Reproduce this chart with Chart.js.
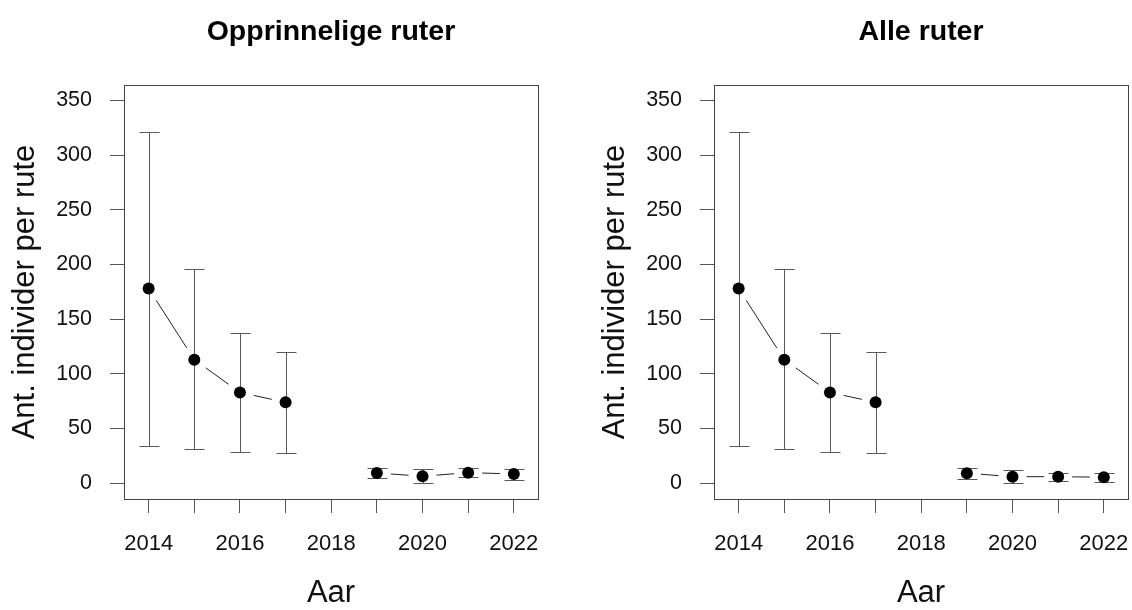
<!DOCTYPE html>
<html>
<head>
<meta charset="utf-8">
<script src="https://cdn.jsdelivr.net/npm/chart.js@4/dist/chart.umd.min.js"></script>
<style>
  html, body { margin: 0; padding: 0; background: #fff; }
  #wrap { position: relative; width: 1132px; height: 610px; overflow: hidden; }
  .panel { position: absolute; top: 0; width: 566px; height: 610px; }
</style>
</head>
<body>
<div id="wrap">
  <div class="panel" style="left:0"><canvas id="c1" width="566" height="610"></canvas></div>
  <div class="panel" style="left:590px"><canvas id="c2" width="566" height="610"></canvas></div>
</div>
<script>
// Survey years (no survey in 2018)
const years = [2014, 2015, 2016, 2017, 2018, 2019, 2020, 2021, 2022];

// Original routes: mean count per route with interval bounds
const origMean = [178, 113, 83, 74, null, 9.4, 6.4, 9.7, 8.5];
const origLow  = [34, 31, 29, 28, null, 4.6, 0.2, 5.5, 3.0];
const origHigh = [321, 196, 137, 120, null, 14.3, 12.8, 14.0, 13.4];

// All routes
const allMean = [178, 113, 83, 74, null, 9.2, 6.0, 6.0, 5.5];
const allLow  = [34, 31, 29, 28, null, 4.2, 0.6, 2.4, 1.2];
const allHigh = [321, 196, 137, 120, null, 14.3, 12.2, 9.7, 9.7];

// Axis ticks
const xTicks  = [2014, 2015, 2016, 2017, 2018, 2019, 2020, 2021, 2022];
const xLabels = [2014, 2016, 2018, 2020, 2022];
const yTicks  = [0, 50, 100, 150, 200, 250, 300, 350];

const titleLeft  = 'Opprinnelige ruter';
const titleRight = 'Alle ruter';
const xTitle = 'Aar';
const yTitle = 'Ant. individer per rute';

const FONT = "'Liberation Sans', Arial, sans-serif";
const CAP = 10;   // half width of interval caps
const GAP = 14;   // gap between connecting line and point centre

// Vertical intervals with caps, drawn under the points
const errorBars = {
  id: 'errorBars',
  beforeDatasetsDraw(chart, args, opts) {
    const { ctx, scales: { x, y } } = chart;
    ctx.save();
    ctx.strokeStyle = '#5a5a5a';
    ctx.lineWidth = 1;
    years.forEach((yr, i) => {
      if (opts.low[i] == null) return;
      const px = Math.round(x.getPixelForValue(yr)) + 0.5;
      const yl = Math.round(y.getPixelForValue(opts.low[i])) + 0.5;
      const yh = Math.round(y.getPixelForValue(opts.high[i])) + 0.5;
      ctx.beginPath();
      ctx.moveTo(px, yl); ctx.lineTo(px, yh);
      ctx.moveTo(px - CAP, yl); ctx.lineTo(px + CAP, yl);
      ctx.moveTo(px - CAP, yh); ctx.lineTo(px + CAP, yh);
      ctx.stroke();
    });
    ctx.restore();
  }
};

// Connecting segments between neighbouring points, stopping short of each point
const gapLines = {
  id: 'gapLines',
  beforeDatasetsDraw(chart) {
    const { ctx } = chart;
    const meta = chart.getDatasetMeta(0);
    const data = chart.data.datasets[0].data;
    ctx.save();
    ctx.strokeStyle = '#222';
    ctx.lineWidth = 1;
    for (let i = 0; i < data.length - 1; i++) {
      if (data[i].y == null || data[i + 1].y == null) continue;
      const a = meta.data[i], b = meta.data[i + 1];
      const dx = b.x - a.x, dy = b.y - a.y;
      const len = Math.hypot(dx, dy);
      if (len <= 2 * GAP) continue;
      const ux = dx / len, uy = dy / len;
      ctx.beginPath();
      ctx.moveTo(a.x + ux * GAP, a.y + uy * GAP);
      ctx.lineTo(b.x - ux * GAP, b.y - uy * GAP);
      ctx.stroke();
    }
    ctx.restore();
  }
};

// Box around the plot region and the panel heading
const frame = {
  id: 'frame',
  afterDraw(chart, args, opts) {
    const { ctx, chartArea: a } = chart;
    ctx.save();
    ctx.strokeStyle = '#444';
    ctx.lineWidth = 1;
    ctx.strokeRect(Math.round(a.left) + 0.5, Math.round(a.top) + 0.5,
                   Math.round(a.right - a.left), Math.round(a.bottom - a.top));
    ctx.fillStyle = '#000';
    ctx.font = 'bold 28.5px ' + FONT;
    ctx.textAlign = 'center';
    ctx.textBaseline = 'middle';
    ctx.fillText(opts.text, (a.left + a.right) / 2, 32);
    ctx.restore();
  }
};

function makeChart(id, title, mean, low, high) {
  return new Chart(document.getElementById(id), {
    type: 'line',
    data: {
      datasets: [{
        data: years.map((yr, i) => ({ x: yr, y: mean[i] })),
        showLine: false,
        spanGaps: false,
        pointRadius: 6,
        pointBackgroundColor: '#000',
        pointBorderWidth: 0,
        pointHoverRadius: 6
      }]
    },
    options: {
      responsive: false,
      animation: false,
      events: [],
      layout: { padding: { top: 85, right: 28, left: 0, bottom: 0 } },
      plugins: {
        legend: { display: false },
        tooltip: { enabled: false },
        errorBars: { low, high },
        frame: { text: title }
      },
      scales: {
        x: {
          type: 'linear',
          min: 2013.46,
          max: 2022.53,
          afterBuildTicks: s => { s.ticks = xTicks.map(v => ({ value: v })); },
          afterFit: s => { s.height = 111; },
          border: { display: false },
          grid: { drawOnChartArea: false, tickLength: 14, tickColor: '#555', tickWidth: 1 },
          ticks: {
            autoSkip: false, maxRotation: 0, padding: 17.5, color: '#111',
            font: { family: FONT, size: 22 },
            callback: v => xLabels.includes(v) ? String(v) : ''
          },
          title: {
            display: true, text: xTitle, color: '#111',
            font: { family: FONT, size: 31, lineHeight: 1 },
            padding: { top: 0, bottom: 1 }
          }
        },
        y: {
          type: 'linear',
          min: -14.4,
          max: 364.1,
          afterBuildTicks: s => { s.ticks = yTicks.map(v => ({ value: v })); },
          afterFit: s => { s.width = 124; },
          border: { display: false },
          grid: { drawOnChartArea: false, tickLength: 14, tickColor: '#555', tickWidth: 1 },
          ticks: {
            padding: 18, color: '#111',
            font: { family: FONT, size: 21.5 }
          },
          title: {
            display: true, text: yTitle, color: '#111',
            font: { family: FONT, size: 31, lineHeight: 1 },
            padding: { top: 9.5, bottom: 0 }
          }
        }
      }
    },
    plugins: [errorBars, gapLines, frame]
  });
}

makeChart('c1', titleLeft, origMean, origLow, origHigh);
makeChart('c2', titleRight, allMean, allLow, allHigh);
</script>
</body>
</html>
